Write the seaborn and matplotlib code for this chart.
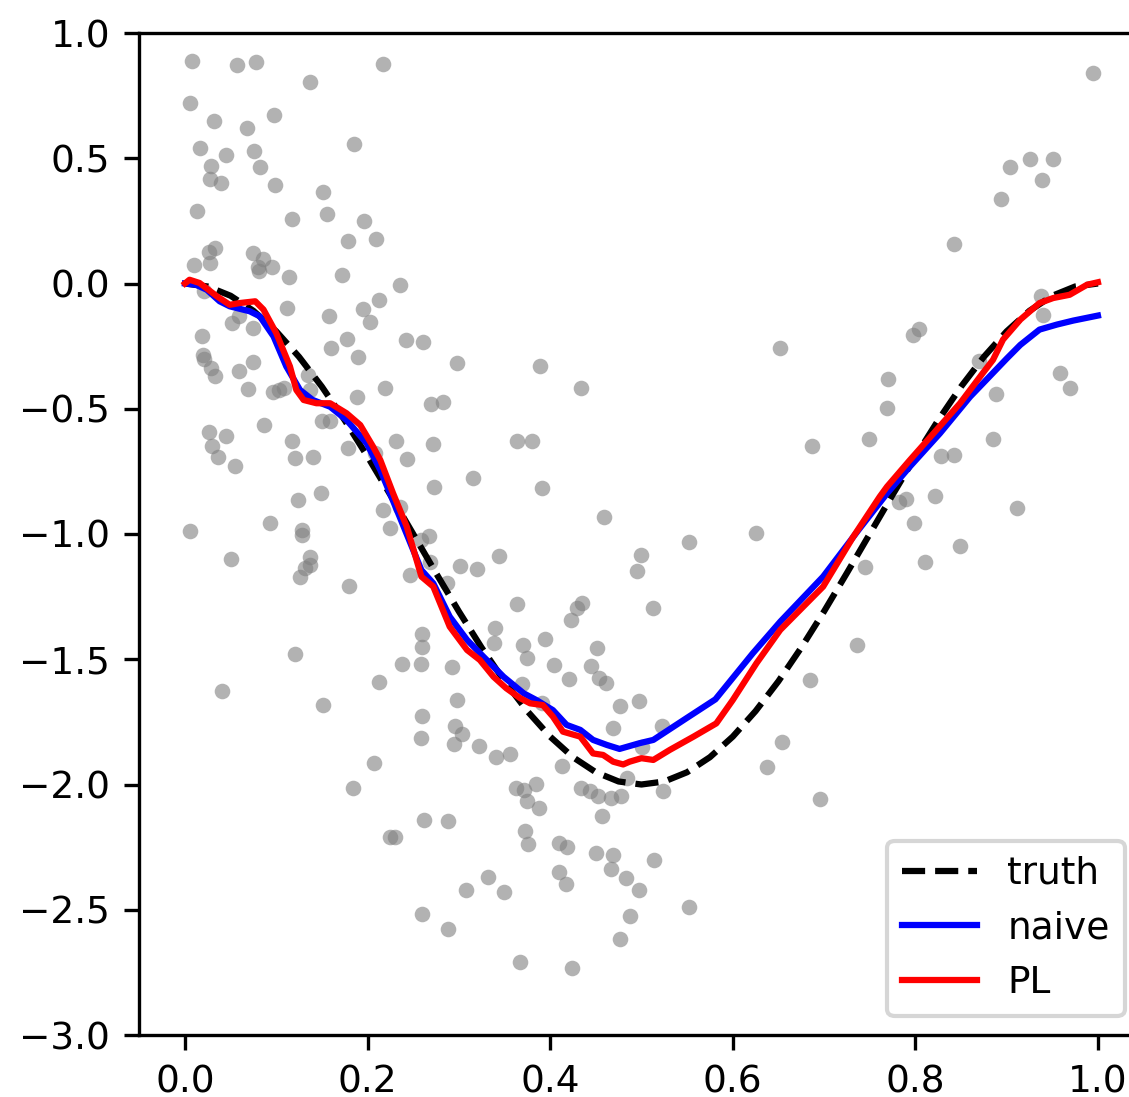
import matplotlib
matplotlib.use("Agg")
import matplotlib.pyplot as plt
import seaborn as sns
import numpy as np

# ---- scatter data (observations) ----
obs_x = [0.008, 0.057, 0.078, 0.217, 0.137, 0.006, 0.097, 0.032, 0.068, 0.016, 0.185, 0.045, 0.076,
         0.029, 0.082, 0.027, 0.040, 0.099, 0.151, 0.013, 0.117, 0.156, 0.196, 0.179, 0.209, 0.033,
         0.026, 0.010, 0.027, 0.075, 0.085, 0.095, 0.081, 0.080, 0.114, 0.172, 0.236, 0.213, 0.195,
         0.203, 0.158, 0.112, 0.021, 0.059, 0.052, 0.074, 0.019, 0.242, 0.261, 0.020, 0.021, 0.028,
         0.059, 0.074, 0.160, 0.178, 0.189, 0.033, 0.069, 0.096, 0.103, 0.108, 0.137, 0.188, 0.219,
         0.135, 0.298, 0.389, 0.434, 0.150, 0.159, 0.087, 0.026, 0.045, 0.030, 0.036, 0.055, 0.117,
         0.121, 0.140, 0.179, 0.208, 0.270, 0.283, 0.231, 0.272, 0.364, 0.380, 0.243, 0.316, 0.273,
         0.391, 0.459, 0.149, 0.124, 0.093, 0.006, 0.128, 0.128, 0.217, 0.235, 0.225, 0.267, 0.259,
         0.050, 0.137, 0.137, 0.131, 0.126, 0.180, 0.268, 0.246, 0.287, 0.301, 0.320, 0.344, 0.364,
         0.429, 0.435, 0.423, 0.260, 0.260, 0.340, 0.338, 0.370, 0.375, 0.394, 0.451, 0.238, 0.258,
         0.292, 0.404, 0.445, 0.421, 0.453, 0.461, 0.369, 0.212, 0.120, 0.041, 0.151, 0.298, 0.207,
         0.184, 0.225, 0.260, 0.296, 0.303, 0.259, 0.295, 0.322, 0.341, 0.356, 0.391, 0.477, 0.469,
         0.413, 0.484, 0.363, 0.371, 0.385, 0.375, 0.388, 0.434, 0.444, 0.452, 0.467, 0.478, 0.457,
         0.262, 0.288, 0.230, 0.373, 0.376, 0.410, 0.418, 0.450, 0.469, 0.467, 0.483, 0.410, 0.417,
         0.332, 0.308, 0.349, 0.260, 0.288, 0.477, 0.367, 0.424, 0.487, 0.497, 0.523, 0.501, 0.654,
         0.637, 0.524, 0.696, 0.514, 0.497, 0.552, 0.687, 0.749, 0.626, 0.552, 0.499, 0.495, 0.513,
         0.745, 0.736, 0.685, 0.652, 0.995, 0.926, 0.951, 0.904, 0.939, 0.894, 0.842, 0.938, 0.940,
         0.804, 0.797, 0.870, 0.958, 0.969, 0.888, 0.770, 0.769, 0.885, 0.828, 0.842, 0.782, 0.790,
         0.822, 0.911, 0.798, 0.849, 0.811]
obs_y = [0.890, 0.873, 0.883, 0.876, 0.804, 0.720, 0.674, 0.647, 0.621, 0.541, 0.558, 0.514, 0.530,
         0.470, 0.465, 0.418, 0.401, 0.393, 0.366, 0.289, 0.257, 0.279, 0.248, 0.170, 0.178, 0.140,
         0.126, 0.073, 0.083, 0.120, 0.098, 0.067, 0.050, 0.065, 0.027, 0.033, -0.006, -0.066, -0.103,
         -0.154, -0.131, -0.099, -0.028, -0.128, -0.158, -0.179, -0.211, -0.227, -0.235, -0.286, -0.302, -0.337,
         -0.351, -0.312, -0.257, -0.223, -0.293, -0.369, -0.421, -0.432, -0.425, -0.418, -0.425, -0.452, -0.416,
         -0.365, -0.317, -0.331, -0.419, -0.549, -0.549, -0.565, -0.592, -0.608, -0.650, -0.693, -0.729, -0.627,
         -0.698, -0.694, -0.658, -0.677, -0.482, -0.474, -0.629, -0.642, -0.629, -0.629, -0.702, -0.778, -0.812,
         -0.818, -0.933, -0.835, -0.864, -0.957, -0.989, -0.984, -1.004, -0.906, -0.891, -0.977, -1.007, -1.024,
         -1.100, -1.090, -1.124, -1.137, -1.173, -1.206, -1.110, -1.165, -1.197, -1.126, -1.141, -1.088, -1.279,
         -1.297, -1.277, -1.345, -1.399, -1.452, -1.374, -1.434, -1.444, -1.494, -1.419, -1.455, -1.519, -1.520,
         -1.532, -1.522, -1.527, -1.579, -1.574, -1.596, -1.599, -1.590, -1.479, -1.627, -1.684, -1.663, -1.913,
         -2.015, -2.208, -1.725, -1.766, -1.798, -1.816, -1.838, -1.848, -1.889, -1.880, -1.676, -1.687, -1.776,
         -1.926, -1.975, -2.015, -2.022, -1.999, -2.066, -2.095, -2.015, -2.026, -2.046, -2.055, -2.046, -2.126,
         -2.143, -2.146, -2.210, -2.184, -2.239, -2.235, -2.248, -2.273, -2.280, -2.339, -2.375, -2.348, -2.396,
         -2.371, -2.423, -2.430, -2.517, -2.576, -2.618, -2.707, -2.734, -2.524, -1.667, -1.766, -1.852, -1.832,
         -1.930, -2.025, -2.057, -2.301, -2.420, -2.490, -0.650, -0.622, -0.997, -1.032, -1.083, -1.149, -1.297,
         -1.133, -1.443, -1.582, -0.256, 0.839, 0.497, 0.497, 0.464, 0.414, 0.339, 0.159, -0.051, -0.126,
         -0.180, -0.204, -0.311, -0.356, -0.418, -0.442, -0.383, -0.496, -0.622, -0.690, -0.685, -0.871, -0.862,
         -0.848, -0.898, -0.957, -1.049, -1.113]

# ---- truth curve ----
truth_x = [0.000, 0.025, 0.050, 0.075, 0.100, 0.125, 0.150, 0.175, 0.200, 0.225, 0.250,
           0.275, 0.300, 0.325, 0.350, 0.375, 0.400, 0.425, 0.450, 0.475, 0.500,
           0.525, 0.550, 0.575, 0.600, 0.625, 0.650, 0.675, 0.700, 0.725, 0.750,
           0.775, 0.800, 0.825, 0.850, 0.875, 0.900, 0.925, 0.950, 0.975, 1.000]
truth_y = [0.000, -0.012, -0.049, -0.109, -0.191, -0.293, -0.412, -0.546, -0.691, -0.844, -1.000,
           -1.156, -1.309, -1.454, -1.588, -1.707, -1.809, -1.891, -1.951, -1.988, -2.000,
           -1.988, -1.951, -1.891, -1.809, -1.707, -1.588, -1.454, -1.309, -1.156, -1.000,
           -0.844, -0.691, -0.546, -0.412, -0.293, -0.191, -0.109, -0.049, -0.012, 0.000]

# ---- naive estimate ----
naive_x = [0.000, 0.012, 0.024, 0.038, 0.049, 0.071, 0.082, 0.097, 0.111, 0.126, 0.140, 0.159,
           0.177, 0.199, 0.214, 0.235, 0.250, 0.259, 0.272, 0.290, 0.309, 0.327, 0.349, 0.371,
           0.385, 0.403, 0.418, 0.433, 0.447, 0.462, 0.476, 0.498, 0.513, 0.549, 0.581, 0.622,
           0.652, 0.699, 0.739, 0.769, 0.794, 0.827, 0.860, 0.885, 0.900, 0.915, 0.936, 0.955,
           0.973, 1.000]
naive_y = [0.000, -0.005, -0.025, -0.071, -0.091, -0.111, -0.131, -0.211, -0.331, -0.425, -0.465, -0.492,
           -0.545, -0.638, -0.745, -0.930, -1.064, -1.144, -1.197, -1.330, -1.423, -1.490, -1.570, -1.636,
           -1.663, -1.703, -1.762, -1.782, -1.822, -1.842, -1.858, -1.835, -1.822, -1.736, -1.660, -1.476,
           -1.350, -1.170, -0.978, -0.838, -0.731, -0.598, -0.452, -0.357, -0.300, -0.245, -0.184, -0.164,
           -0.148, -0.128]

# ---- PL estimate ----
pl_x = [0.000, 0.005, 0.016, 0.035, 0.049, 0.060, 0.077, 0.086, 0.100, 0.115, 0.122, 0.130,
        0.144, 0.159, 0.177, 0.192, 0.206, 0.214, 0.228, 0.243, 0.259, 0.272, 0.290, 0.309,
        0.323, 0.338, 0.352, 0.367, 0.378, 0.392, 0.403, 0.414, 0.433, 0.447, 0.458, 0.469,
        0.480, 0.487, 0.500, 0.513, 0.531, 0.557, 0.582, 0.600, 0.626, 0.652, 0.699, 0.732,
        0.761, 0.769, 0.794, 0.820, 0.849, 0.874, 0.885, 0.896, 0.915, 0.936, 0.951, 0.969,
        0.988, 1.000]
pl_y = [0.000, 0.015, 0.002, -0.051, -0.085, -0.078, -0.071, -0.104, -0.198, -0.331, -0.425, -0.465,
        -0.478, -0.478, -0.518, -0.565, -0.651, -0.705, -0.838, -0.971, -1.170, -1.210, -1.370, -1.463,
        -1.503, -1.570, -1.616, -1.655, -1.676, -1.683, -1.729, -1.789, -1.809, -1.876, -1.882, -1.909,
        -1.920, -1.909, -1.895, -1.902, -1.862, -1.809, -1.756, -1.663, -1.516, -1.383, -1.210, -1.011,
        -0.851, -0.811, -0.705, -0.598, -0.478, -0.357, -0.305, -0.224, -0.144, -0.078, -0.058, -0.045,
        -0.005, 0.005]

W, H, DPI = 1129, 1097, 300
fig = plt.figure(figsize=(W / DPI, H / DPI), dpi=DPI)
ax = fig.add_axes([139.3 / W, 62 / H, 1004.3 / W, 1002 / H])

sns.scatterplot(x=obs_x, y=obs_y, color="gray", alpha=0.6, s=14, linewidth=0, ax=ax, zorder=1)
sns.lineplot(x=truth_x, y=truth_y, color="black", linestyle="--", linewidth=1.5,
             label="truth", ax=ax, estimator=None, sort=False, zorder=2)
sns.lineplot(x=naive_x, y=naive_y, color="blue", linewidth=1.5,
             label="naive", ax=ax, estimator=None, sort=False, zorder=3)
sns.lineplot(x=pl_x, y=pl_y, color="red", linewidth=1.5,
             label="PL", ax=ax, estimator=None, sort=False, zorder=4)

ax.set_xlim(-0.05, 1.05)
ax.set_ylim(-3.0, 1.0)
ax.set_xticks([0.0, 0.2, 0.4, 0.6, 0.8, 1.0])
ax.set_yticks([-3.0, -2.5, -2.0, -1.5, -1.0, -0.5, 0.0, 0.5, 1.0])
ax.tick_params(labelsize=9)
ax.set_xlabel("")
ax.set_ylabel("")
ax.legend(loc="lower right", fontsize=9)

fig.savefig("out.png", dpi=DPI)
